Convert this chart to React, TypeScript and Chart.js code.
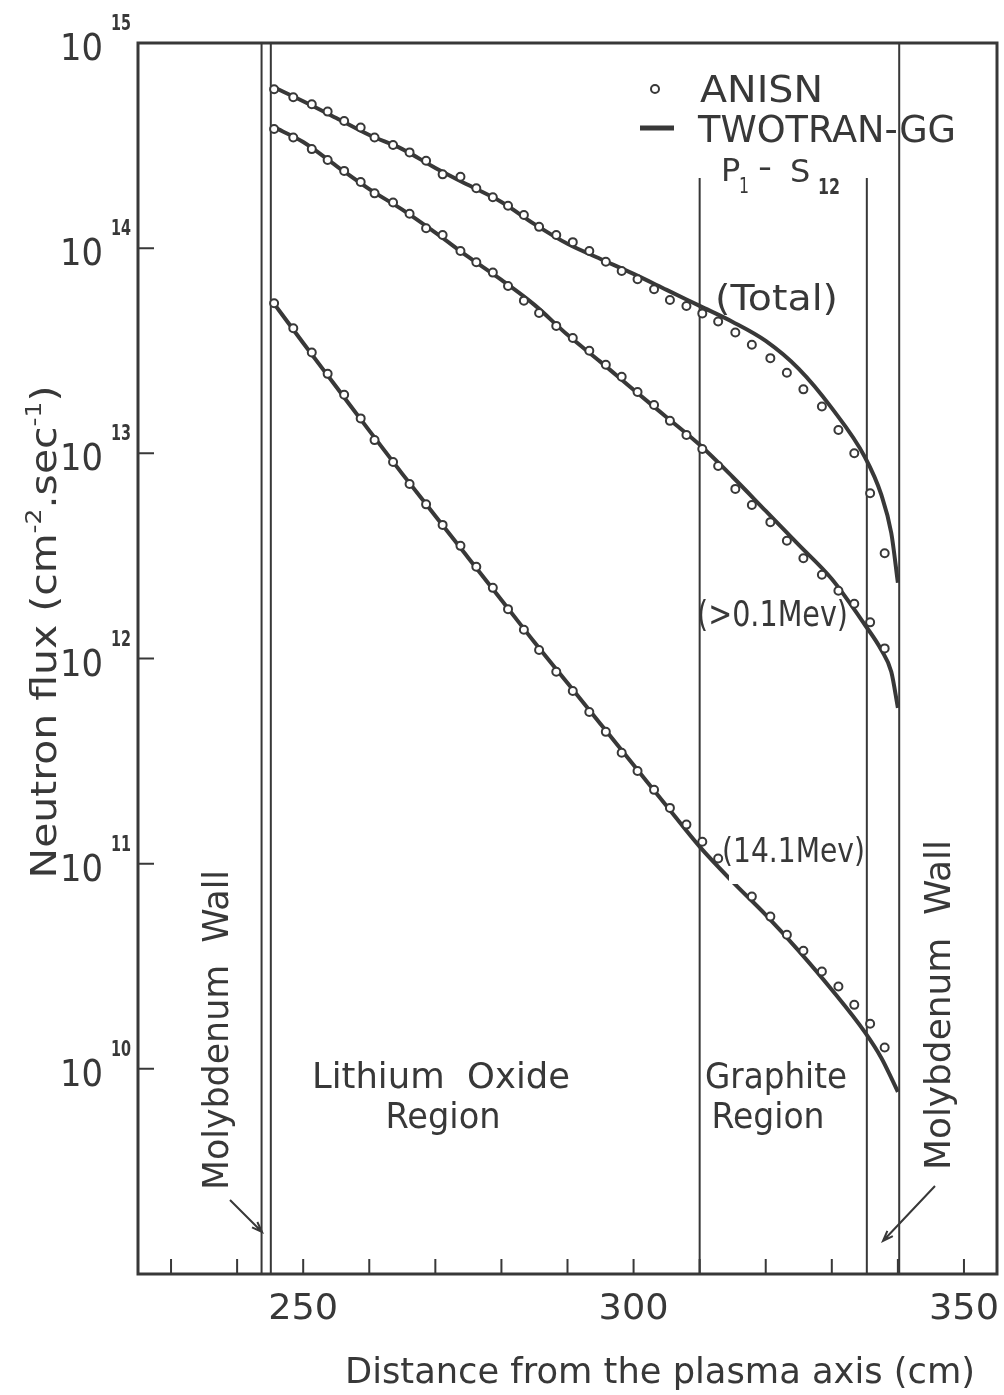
import React, { useEffect, useRef } from "react";
import { Chart, registerables } from "chart.js";

Chart.register(...registerables);

const FONT = '"DejaVu Sans", "Liberation Sans", sans-serif';
const INK = "#383838";

// ANISN mesh positions (cm)
const ANISN_X = [245.6, 248.5, 251.3, 253.7, 256.2, 258.7, 260.8, 263.6, 266.1, 268.6, 271.1, 273.8, 276.2, 278.7, 281.0, 283.4, 285.7, 288.3, 290.8, 293.3, 295.8, 298.2, 300.6, 303.1, 305.5, 308.0, 310.4, 312.8, 315.4, 317.9, 320.7, 323.2, 325.7, 328.5, 331.0, 333.4, 335.8, 338.0];
// ANISN fluxes (cm^-2 s^-1)
const ANISN_TOTAL = [5.95e14, 5.44e14, 5.03e14, 4.63e14, 4.17e14, 3.87e14, 3.46e14, 3.18e14, 2.93e14, 2.67e14, 2.29e14, 2.23e14, 1.96e14, 1.77e14, 1.61e14, 1.45e14, 1.27e14, 1.16e14, 1.07e14, 9.69e13, 8.59e13, 7.74e13, 7.05e13, 6.30e13, 5.59e13, 5.23e13, 4.81e13, 4.39e13, 3.88e13, 3.38e13, 2.91e13, 2.47e13, 2.05e13, 1.69e13, 1.30e13, 1.00e13, 6.39e12, 3.26e12];
const ANISN_FAST = [3.81e14, 3.46e14, 3.04e14, 2.69e14, 2.38e14, 2.10e14, 1.85e14, 1.67e14, 1.47e14, 1.25e14, 1.16e14, 9.69e13, 8.54e13, 7.60e13, 6.54e13, 5.55e13, 4.83e13, 4.18e13, 3.65e13, 3.16e13, 2.70e13, 2.36e13, 1.99e13, 1.72e13, 1.44e13, 1.23e13, 1.05e13, 8.68e12, 6.71e12, 5.60e12, 4.62e12, 3.75e12, 3.08e12, 2.56e12, 2.14e12, 1.85e12, 1.50e12, 1.12e12];
const ANISN_14MEV = [5.39e13, 4.07e13, 3.10e13, 2.44e13, 1.93e13, 1.48e13, 1.16e13, 9.08e12, 7.09e12, 5.64e12, 4.48e12, 3.54e12, 2.80e12, 2.21e12, 1.74e12, 1.38e12, 1.10e12, 8.61e11, 6.95e11, 5.49e11, 4.39e11, 3.47e11, 2.83e11, 2.29e11, 1.87e11, 1.55e11, 1.28e11, 1.06e11, null, 6.91e10, 5.52e10, 4.50e10, 3.76e10, 2.98e10, 2.52e10, 2.05e10, 1.66e10, 1.27e10];

// TWOTRAN-GG curves
const TWOTRAN_X = [245.5, 250, 255, 260, 265, 270, 275, 280, 285, 290, 295, 300, 305, 310, 315, 320, 325, 330, 335, 337.5, 339, 340];
const TWOTRAN_TOTAL = [6.1e14, 5.2e14, 4.31e14, 3.56e14, 3.04e14, 2.46e14, 2.03e14, 1.68e14, 1.31e14, 1.05e14, 8.86e13, 7.49e13, 6.26e13, 5.23e13, 4.37e13, 3.53e13, 2.58e13, 1.66e13, 9.6e12, 6.27e12, 4.09e12, 2.34e12];
const TWOTRAN_FAST = [3.90e14, 3.29e14, 2.52e14, 1.94e14, 1.54e14, 1.19e14, 9.06e13, 7.0e13, 5.29e13, 3.78e13, 2.79e13, 2.04e13, 1.50e13, 1.10e13, 7.67e12, 5.24e12, 3.58e12, 2.44e12, 1.46e12, 1.10e12, 8.61e11, 5.75e11];
const TWOTRAN_14MEV = [5.41e13, 3.45e13, 2.11e13, 1.29e13, 7.94e12, 4.95e12, 3.09e12, 1.93e12, 1.20e12, 7.60e11, 4.80e11, 3.03e11, 1.91e11, 1.21e11, 8.15e10, 5.63e10, 3.76e10, 2.43e10, 1.51e10, 1.13e10, 9.04e9, 7.73e9];

// Axes
const X_MIN = 225;
const X_MAX = 355;
const Y_MIN = 1e9;
const Y_MAX = 1e15;
const X_TICKS = [230, 240, 250, 260, 270, 280, 290, 300, 310, 320, 330, 340, 350];
const X_TICK_LABELS = ["250", "300", "350"];
const Y_TICKS = [1e10, 1e11, 1e12, 1e13, 1e14];
const Y_LABEL_EXPONENTS = [10, 11, 12, 13, 14, 15];

// Region boundaries (cm)
const FULL_BOUNDARIES = [243.7, 245.1, 340.2];
const SN_BOUNDARIES = [310, 335.3];
const SN_BOUNDARY_TOP = 2.2e14;

type Part = { t: string; size: number; dy?: number; bold?: boolean };

function rich(
  ctx: CanvasRenderingContext2D,
  parts: Part[],
  x: number,
  y: number,
  opts: { w?: number; rot?: number; align?: "left" | "center" | "right" } = {}
) {
  ctx.save();
  let total = 0;
  const ws = parts.map((p) => {
    ctx.font = `${p.bold ? "bold " : ""}${p.size}px ${FONT}`;
    const w = ctx.measureText(p.t).width;
    total += w;
    return w;
  });
  const sx = opts.w ? opts.w / total : 1;
  ctx.translate(x, y);
  if (opts.rot) ctx.rotate(opts.rot);
  ctx.scale(sx, 1);
  const align = opts.align || "center";
  let cur = align === "center" ? -total / 2 : align === "right" ? -total : 0;
  ctx.textAlign = "left";
  ctx.textBaseline = "alphabetic";
  ctx.fillStyle = INK;
  parts.forEach((p, i) => {
    ctx.font = `${p.bold ? "bold " : ""}${p.size}px ${FONT}`;
    ctx.fillText(p.t, cur, p.dy || 0);
    cur += ws[i];
  });
  ctx.restore();
}

function arrow(ctx: CanvasRenderingContext2D, x1: number, y1: number, x2: number, y2: number) {
  const a = Math.atan2(y2 - y1, x2 - x1);
  const L = 11;
  ctx.beginPath();
  ctx.moveTo(x1, y1);
  ctx.lineTo(x2, y2);
  ctx.moveTo(x2 - L * Math.cos(a - 0.35), y2 - L * Math.sin(a - 0.35));
  ctx.lineTo(x2, y2);
  ctx.lineTo(x2 - L * Math.cos(a + 0.35), y2 - L * Math.sin(a + 0.35));
  ctx.stroke();
}

const annotPlugin = {
  id: "annot",
  beforeDraw(chart: any) {
    const ctx = chart.ctx;
    ctx.save();
    ctx.fillStyle = "#fff";
    ctx.fillRect(0, 0, chart.width, chart.height);
    ctx.restore();
  },
  beforeDatasetsDraw(chart: any) {
    const ctx: CanvasRenderingContext2D = chart.ctx;
    const { left, right, top, bottom } = chart.chartArea;
    const xs = chart.scales.x;
    const ys = chart.scales.y;
    ctx.save();
    ctx.strokeStyle = INK;
    ctx.lineCap = "butt";
    // frame
    ctx.lineWidth = 3;
    ctx.strokeRect(left, top, right - left, bottom - top);
    // ticks
    ctx.lineWidth = 2;
    ctx.beginPath();
    X_TICKS.forEach((v) => {
      const px = xs.getPixelForValue(v);
      ctx.moveTo(px, bottom);
      ctx.lineTo(px, bottom - 15);
    });
    Y_TICKS.forEach((v) => {
      const py = ys.getPixelForValue(v);
      ctx.moveTo(left, py);
      ctx.lineTo(left + 16, py);
    });
    ctx.stroke();
    // region boundaries
    ctx.lineWidth = 2;
    ctx.beginPath();
    FULL_BOUNDARIES.forEach((v) => {
      const px = xs.getPixelForValue(v);
      ctx.moveTo(px, top);
      ctx.lineTo(px, bottom);
    });
    const snTop = ys.getPixelForValue(SN_BOUNDARY_TOP);
    SN_BOUNDARIES.forEach((v) => {
      const px = xs.getPixelForValue(v);
      ctx.moveTo(px, snTop);
      ctx.lineTo(px, bottom);
    });
    ctx.stroke();
    // arrows to the molybdenum walls
    ctx.lineWidth = 2;
    arrow(ctx, 230, 1200, 262, 1232);
    arrow(ctx, 935, 1186, 883, 1241);
    ctx.restore();
  },
  afterDatasetsDraw(chart: any) {
    const ctx: CanvasRenderingContext2D = chart.ctx;
    const xs = chart.scales.x;
    const ys = chart.scales.y;
    ctx.save();
    // small break in the 14.1 MeV curve beside its label
    ctx.fillStyle = "#fff";
    ctx.fillRect(729, 860, 13, 24);
    // x tick labels
    X_TICK_LABELS.forEach((s) => {
      rich(ctx, [{ t: s, size: 36 }], xs.getPixelForValue(Number(s)), 1319, { w: 70 });
    });
    // x title
    rich(ctx, [{ t: "Distance from the plasma axis (cm)", size: 36 }], 660, 1383, { w: 630 });
    // y tick labels
    Y_LABEL_EXPONENTS.forEach((e) => {
      const py = ys.getPixelForValue(Math.pow(10, e));
      rich(ctx, [{ t: "10", size: 37 }], 103, py + 17, { w: 43, align: "right" });
      rich(ctx, [{ t: String(e), size: 22, bold: true }], 111, py - 13, { w: 20, align: "left" });
    });
    // y title
    rich(
      ctx,
      [
        { t: "Neutron flux (cm", size: 36 },
        { t: "-2", size: 22, dy: -15 },
        { t: ".sec", size: 36 },
        { t: "-1", size: 22, dy: -15 },
        { t: ")", size: 36 },
      ],
      56,
      632,
      { w: 493, rot: -Math.PI / 2 }
    );
    // legend
    ctx.strokeStyle = INK;
    ctx.fillStyle = "#fff";
    ctx.lineWidth = 2;
    ctx.beginPath();
    ctx.arc(655, 89, 4, 0, Math.PI * 2);
    ctx.fill();
    ctx.stroke();
    ctx.lineWidth = 5;
    ctx.beginPath();
    ctx.moveTo(640, 128);
    ctx.lineTo(674, 128);
    ctx.stroke();
    rich(ctx, [{ t: "ANISN", size: 37 }], 700, 102, { w: 123, align: "left" });
    rich(ctx, [{ t: "TWOTRAN-GG", size: 37 }], 698, 142, { w: 258, align: "left" });
    rich(ctx, [{ t: "P", size: 32 }], 721, 181, { align: "left" });
    rich(ctx, [{ t: "1", size: 22 }], 739, 193, { w: 10, align: "left" });
    rich(ctx, [{ t: "-", size: 32 }], 758, 178, { w: 14, align: "left" });
    rich(ctx, [{ t: "S", size: 32 }], 790, 182, { align: "left" });
    rich(ctx, [{ t: "12", size: 21, bold: true }], 818, 194, { w: 22, align: "left" });
    // curve labels
    rich(ctx, [{ t: "(Total)", size: 36 }], 715, 310, { w: 123, align: "left" });
    rich(ctx, [{ t: "(>0.1Mev)", size: 35 }], 697, 626, { w: 151, align: "left" });
    rich(ctx, [{ t: "(14.1Mev)", size: 34 }], 722, 862, { w: 143, align: "left" });
    // region labels
    rich(ctx, [{ t: "Lithium  Oxide", size: 36 }], 441, 1088, { w: 258 });
    rich(ctx, [{ t: "Region", size: 36 }], 443, 1128, { w: 115 });
    rich(ctx, [{ t: "Graphite", size: 36 }], 776, 1088, { w: 142 });
    rich(ctx, [{ t: "Region", size: 36 }], 768, 1128, { w: 113 });
    rich(ctx, [{ t: "Molybdenum  Wall", size: 36 }], 228, 1030, { w: 320, rot: -Math.PI / 2 });
    rich(ctx, [{ t: "Molybdenum  Wall", size: 36 }], 950, 1005, { w: 330, rot: -Math.PI / 2 });
    ctx.restore();
  },
};

function pts(xs: number[], ys: (number | null)[]) {
  return xs.map((x, i) => ({ x, y: ys[i] }));
}

export default function App() {
  const ref = useRef<HTMLCanvasElement | null>(null);
  useEffect(() => {
    if (!ref.current) return;
    const anisn = (label: string, data: (number | null)[]) => ({
      label,
      data: pts(ANISN_X, data),
      showLine: false,
      pointRadius: 4,
      pointBorderWidth: 2,
      pointBackgroundColor: "#fff",
      pointBorderColor: INK,
      order: 0,
    });
    const twotran = (label: string, data: number[]) => ({
      label,
      data: pts(TWOTRAN_X, data),
      showLine: true,
      borderColor: INK,
      borderWidth: 4,
      pointRadius: 0,
      cubicInterpolationMode: "monotone",
      order: 1,
    });
    const chart = new Chart(ref.current, {
      type: "scatter",
      data: {
        datasets: [
          anisn("ANISN Total", ANISN_TOTAL),
          anisn("ANISN >0.1MeV", ANISN_FAST),
          anisn("ANISN 14.1MeV", ANISN_14MEV),
          twotran("TWOTRAN-GG Total", TWOTRAN_TOTAL),
          twotran("TWOTRAN-GG >0.1MeV", TWOTRAN_FAST),
          twotran("TWOTRAN-GG 14.1MeV", TWOTRAN_14MEV),
        ] as any,
      },
      options: {
        animation: false,
        responsive: false,
        devicePixelRatio: 1,
        layout: { padding: { top: 43, right: 7, left: 0, bottom: 0 } },
        plugins: { legend: { display: false }, tooltip: { enabled: false } },
        scales: {
          x: {
            type: "linear",
            min: X_MIN,
            max: X_MAX,
            grid: { display: false },
            border: { display: false },
            ticks: { display: false },
            afterFit: (s: any) => {
              s.height = 121;
            },
          },
          y: {
            type: "logarithmic",
            min: Y_MIN,
            max: Y_MAX,
            grid: { display: false },
            border: { display: false },
            ticks: { display: false },
            afterFit: (s: any) => {
              s.width = 138;
            },
          },
        },
      } as any,
      plugins: [annotPlugin],
    });
    return () => chart.destroy();
  }, []);
  return (
    <div style={{ position: "absolute", left: 0, top: 0, width: 1004, height: 1395, background: "#fff" }}>
      <canvas ref={ref} width={1004} height={1395} style={{ width: 1004, height: 1395, display: "block" }} />
    </div>
  );
}
